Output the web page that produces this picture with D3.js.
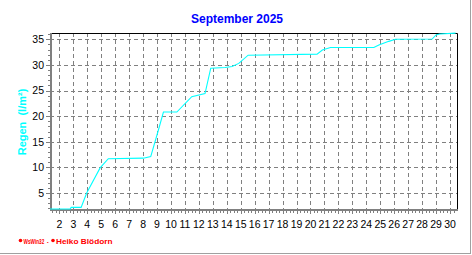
<!DOCTYPE html>
<html>
<head>
<meta charset="utf-8">
<script src="https://cdn.jsdelivr.net/npm/d3@7"></script>
<style>
  body { margin: 0; background: #fff; }
  text { font-family: "Liberation Sans", Arial, sans-serif; }
</style>
</head>
<body>
<div id="chart"></div>
<script>
"use strict";

// time in days of the month, cumulative rain in l/m²
const days = [1.33, 2.77, 2.85, 3.56, 3.96, 4.92, 5.51, 8.02, 8.55, 9.10, 9.46, 10.42, 11.49, 12.44, 12.85, 13.88, 14.38, 14.86, 15.53, 20.47, 20.85, 21.43, 24.54, 24.90, 25.61, 26.09, 28.72, 29.00, 29.25, 30.40];
const rain = [1.88, 1.88, 2.2, 2.2, 5.0, 9.9, 11.7, 11.8, 12.1, 17.3, 20.8, 20.8, 23.8, 24.4, 29.35, 29.5, 29.7, 30.3, 31.9, 32.1, 32.9, 33.4, 33.4, 33.9, 34.6, 35.0, 35.05, 35.85, 36.05, 36.2];
const dayTicks = d3.range(2, 31);
const rainTicks = [5, 10, 15, 20, 25, 30, 35];
const xDomain = [1.33, 30.5];
const yDomain = [1.88, 36.23];
const title = "September 2025";
const yTitle = "Regen  (l/m²)";

const w = 472, h = 255;
const pLeft = 50, pRight = 457, pTop = 33, pBottom = 209;

const svg = d3.select("#chart").append("svg")
    .attr("width", w)
    .attr("height", h);

const x = d3.scaleLinear().domain(xDomain).range([pLeft, pRight]);
const y = d3.scaleLinear().domain(yDomain).range([pBottom, pTop]);

// frame shadow on right and bottom
svg.append("line").attr("x1", 470.5).attr("x2", 470.5).attr("y1", 0).attr("y2", 254)
    .attr("stroke", "#a0a0a0");
svg.append("line").attr("x1", 0).attr("x2", 471).attr("y1", 253.5).attr("y2", 253.5)
    .attr("stroke", "#a0a0a0");

// grid
svg.append("g").selectAll("line")
    .data(dayTicks)
    .enter().append("line")
    .attr("x1", d => Math.round(x(d)) + 0.5)
    .attr("x2", d => Math.round(x(d)) + 0.5)
    .attr("y1", pTop)
    .attr("y2", pBottom)
    .attr("stroke", "#808080")
    .attr("stroke-dasharray", "4,3");

svg.append("g").selectAll("line")
    .data(rainTicks)
    .enter().append("line")
    .attr("x1", pLeft)
    .attr("x2", pRight)
    .attr("y1", d => Math.round(y(d)) + 0.5)
    .attr("y2", d => Math.round(y(d)) + 0.5)
    .attr("stroke", "#808080")
    .attr("stroke-dasharray", "4,3");

// top and right border
svg.append("path")
    .attr("d", "M" + pLeft + "," + (pTop + 0.5) + "H" + (pRight + 0.5) + "V" + pBottom)
    .attr("fill", "none")
    .attr("stroke", "#000");

// y axis
const yAxis = svg.append("g").attr("transform", "translate(" + (pLeft + 1) + ",0)");
yAxis.append("g").selectAll("line")
    .data(d3.range(2, 37))
    .enter().append("line")
    .attr("x1", -1)
    .attr("x2", d => rainTicks.includes(d) ? -5 : -3)
    .attr("y1", d => Math.round(y(d)) + 0.5)
    .attr("y2", d => Math.round(y(d)) + 0.5)
    .attr("stroke", "#808080");
yAxis.append("line")
    .attr("y1", pTop).attr("y2", pBottom + 2)
    .attr("stroke", "#808080").attr("stroke-width", 2);
yAxis.append("g").selectAll("text")
    .data(rainTicks)
    .enter().append("text")
    .attr("x", -7)
    .attr("y", d => y(d))
    .attr("dy", "0.36em")
    .attr("text-anchor", "end")
    .style("font-size", "10.5px")
    .text(d => d);

// x axis
const xAxis = svg.append("g").attr("transform", "translate(0," + (pBottom + 1) + ")");
const minor = d3.range(Math.ceil(xDomain[0] * 4) / 4, xDomain[1], 0.25)
    .filter(d => d % 1 !== 0);
xAxis.append("g").selectAll("line")
    .data(minor)
    .enter().append("line")
    .attr("x1", d => Math.round(x(d)) + 0.5)
    .attr("x2", d => Math.round(x(d)) + 0.5)
    .attr("y1", 1).attr("y2", 3)
    .attr("stroke", "#808080");
xAxis.append("g").selectAll("line")
    .data(dayTicks)
    .enter().append("line")
    .attr("x1", d => Math.round(x(d)) + 0.5)
    .attr("x2", d => Math.round(x(d)) + 0.5)
    .attr("y1", 1).attr("y2", 4)
    .attr("stroke", "#808080");
xAxis.append("line")
    .attr("x1", pLeft).attr("x2", pRight + 1)
    .attr("stroke", "#808080").attr("stroke-width", 2);
xAxis.append("g").selectAll("text")
    .data(dayTicks)
    .enter().append("text")
    .attr("x", d => x(d))
    .attr("y", 17.5)
    .attr("text-anchor", "middle")
    .style("font-size", "10.5px")
    .text(d => d);

// rain line
const line = d3.line()
    .x((d, i) => x(days[i]))
    .y(d => y(d));
svg.append("path")
    .datum(rain)
    .attr("d", line)
    .attr("fill", "none")
    .attr("stroke", "#00ffff")
    .attr("stroke-width", 1.1);

// titles
svg.append("text")
    .attr("x", 237)
    .attr("y", 22.5)
    .attr("text-anchor", "middle")
    .style("font-size", "12px")
    .style("font-weight", "bold")
    .style("fill", "#0000ff")
    .text(title);

svg.append("text")
    .attr("transform", "translate(25.5,122)rotate(-90)")
    .attr("text-anchor", "middle")
    .attr("xml:space", "preserve")
    .style("white-space", "pre")
    .style("font-size", "11px")
    .style("font-weight", "bold")
    .style("fill", "#00ffff")
    .text(yTitle);

// footer
const footer = svg.append("g").style("fill", "#ff0000");
footer.selectAll("circle")
    .data([20.5, 53])
    .enter().append("circle")
    .attr("cx", d => d).attr("cy", 240.5).attr("r", 1.8);
footer.append("text").attr("x", 23.5).attr("y", 243.5)
    .attr("xml:space", "preserve")
    .attr("textLength", 25).attr("lengthAdjust", "spacingAndGlyphs")
    .style("font-size", "6.5px").style("font-weight", "bold").text("WsWin32  -");
footer.append("text").attr("x", 56).attr("y", 243.5)
    .attr("textLength", 56.5).attr("lengthAdjust", "spacingAndGlyphs")
    .style("font-size", "6.5px").style("font-weight", "bold").text("Heiko Blödorn");
</script>
</body>
</html>
